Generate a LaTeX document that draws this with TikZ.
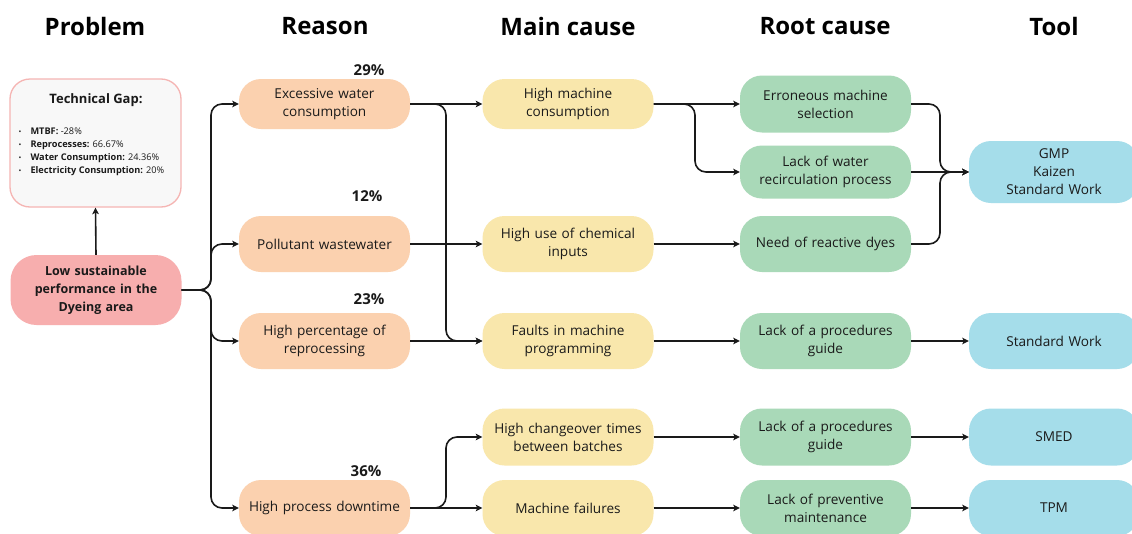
\documentclass[tikz,border=0pt]{standalone}
\usepackage{fontspec}
\setmainfont{Open Sans}
\usetikzlibrary{arrows.meta}

\definecolor{ink}{HTML}{1A1A1A}
\definecolor{probfill}{HTML}{F7AEAE}
\definecolor{gapline}{HTML}{F5B5B3}
\definecolor{gapfill}{HTML}{F8F8F8}
\definecolor{reasfill}{HTML}{FBD1AF}
\definecolor{mainfill}{HTML}{F9E7AC}
\definecolor{rootfill}{HTML}{A9D9B8}
\definecolor{toolfill}{HTML}{A5DDEA}

\tikzset{
  hdr/.style={font=\fontsize{24}{28}\selectfont\bfseries, text=black, inner sep=0pt},
  pct/.style={font=\fontsize{15}{17}\selectfont\bfseries, text=ink, inner sep=0pt},
  box/.style={rounded corners=22pt, minimum width=171pt, minimum height=56pt,
    text width=168pt, align=center, inner sep=0pt, text=ink,
    font=\fontsize{13.6}{18}\selectfont},
  reas/.style={box, fill=reasfill},
  mainc/.style={box, fill=mainfill},
  rootc/.style={box, fill=rootfill},
  toolc/.style={box, fill=toolfill, minimum width=170pt},
  conn/.style={draw=ink, line width=1.6pt, -{Stealth[length=6.5pt,width=6.5pt,inset=1.5pt]}},
  elbow/.style={conn, rounded corners=11pt},
}

\newcommand{\gb}{{\fontsize{7.5}{7.5}\selectfont\textbullet}\hspace{9pt}}

\begin{document}
\begin{tikzpicture}[x=1pt,y=-1pt]
\clip (0,0) rectangle (1132,533);
\fill[white] (0,0) rectangle (1132,533);

% column headings
\node[hdr] (hprob) at (95,26) {Problem};
\node[hdr] (hreas) at (325,26) {Reason};
\node[hdr] (hmain) at (568,26) {Main cause};
\node[hdr] (hroot) at (825,26) {Root cause};
\node[hdr] (htool) at (1054,26) {Tool};

% technical gap panel
\node[draw=gapline, fill=gapfill, line width=1.3pt, rounded corners=20pt,
      minimum width=171pt, minimum height=128pt, inner sep=0pt] (gap) at (95.5,143) {};
\node[font=\fontsize{13}{15}\selectfont\bfseries, text=ink, inner sep=0pt] (gaptitle) at (96,100) {Technical Gap:};
\node[anchor=west, align=left, inner sep=0pt, text=ink,
      font=\fontsize{9.2}{13}\selectfont] (gaplist) at (18.5,152)
  {\gb\textbf{MTBF:} -28\%\\
   \gb\textbf{Reprocesses:} 66.67\%\\
   \gb\textbf{Water Consumption:} 24.36\%\\
   \gb\textbf{Electricity Consumption:} 20\%};

% problem
\node[box, fill=probfill, minimum height=70pt, rounded corners=26pt,
      font=\fontsize{12.5}{18}\selectfont\bfseries] (prob) at (96,290)
  {Low sustainable\\performance in the\\Dyeing area};

% reasons
\node[reas, minimum height=50pt] (r1) at (324.5,104) {Excessive water\\consumption};
\node[reas] (r2) at (324.5,244) {Pollutant wastewater};
\node[reas] (r3) at (324.5,341) {High percentage of\\reprocessing};
\node[reas] (r4) at (324.5,508) {High process downtime};

\node[pct] (p1) at (369,70) {29\%};
\node[pct] (p2) at (367,196) {12\%};
\node[pct] (p3) at (369,299) {23\%};
\node[pct] (p4) at (366,471) {36\%};

% main causes
\node[mainc, minimum height=50pt] (m1) at (568,104) {High machine\\consumption};
\node[mainc] (m2) at (568,244) {High use of chemical\\inputs};
\node[mainc] (m3) at (568,341) {Faults in machine\\programming};
\node[mainc, minimum height=57pt] (m4) at (568,437) {High changeover times\\between batches};
\node[mainc] (m5) at (568,508) {Machine failures};

% root causes
\node[rootc, minimum height=57pt] (c1) at (825.5,104) {Erroneous machine\\selection};
\node[rootc, minimum height=53pt] (c2) at (825.5,172) {Lack of water\\recirculation process};
\node[rootc] (c3) at (825.5,244) {Need of reactive dyes};
\node[rootc] (c4) at (825.5,341) {Lack of a procedures\\guide};
\node[rootc, minimum height=57pt] (c5) at (825.5,437) {Lack of a procedures\\guide};
\node[rootc] (c6) at (825.5,508) {Lack of preventive\\maintenance};

% tools
\node[toolc, minimum height=62pt] (t1) at (1054,172) {GMP\\Kaizen\\Standard Work};
\node[toolc] (t2) at (1054,341) {Standard Work};
\node[toolc, minimum height=57pt] (t3) at (1054,437) {SMED};
\node[toolc] (t4) at (1054,508) {TPM};

% junction points
\coordinate (jp) at (211,290);
\coordinate (jw) at (446,104);
\coordinate (jd) at (446,508);
\coordinate (jm) at (695,104);
\coordinate (jg) at (940,172);

% problem links
\draw[conn] (prob.north) -- (gap.south);
\foreach \r in {r1,r2,r3,r4}
  \draw[elbow] (prob.east) -- (jp) |- (\r.west);

% reasons to main causes
\draw[conn] (r1.east) -- (m1.west);
\draw[elbow] (r1.east) -- (jw) |- (m3.west);
\draw[conn] (r2.east) -- (m2.west);
\draw[conn] (r3.east) -- (m3.west);
\draw[elbow] (r4.east) -- (jd) |- (m4.west);
\draw[conn] (r4.east) -- (m5.west);

% main causes to root causes
\draw[conn] (m1.east) -- (c1.west);
\draw[elbow] (m1.east) -- (jm) |- (c2.west);
\draw[conn] (m2.east) -- (c3.west);
\draw[conn] (m3.east) -- (c4.west);
\draw[conn] (m4.east) -- (c5.west);
\draw[conn] (m5.east) -- (c6.west);

% root causes to tools
\draw[elbow] (c1.east) -| (jg) -- (t1.west);
\draw[conn] (c2.east) -- (t1.west);
\draw[elbow] (c3.east) -| (jg) -- (t1.west);
\draw[conn] (c4.east) -- (t2.west);
\draw[conn] (c5.east) -- (t3.west);
\draw[conn] (c6.east) -- (t4.west);
\end{tikzpicture}
\end{document}
